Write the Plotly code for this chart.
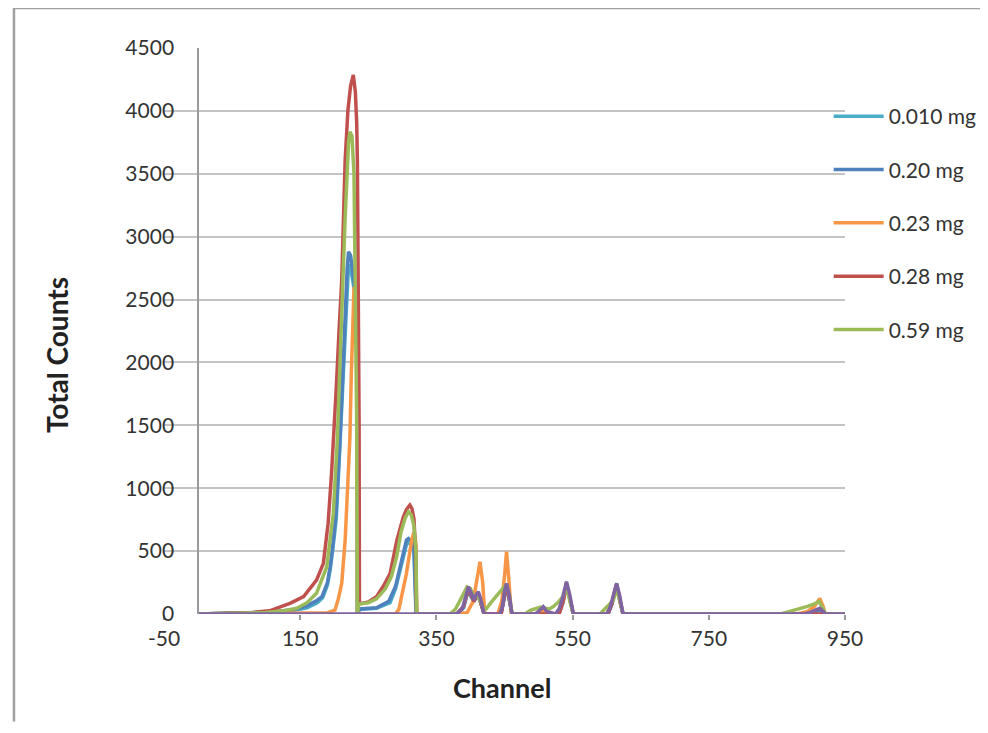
import plotly.graph_objects as go

# ---------------- data ----------------
series_names = ["0.010 mg", "0.20 mg", "0.23 mg", "0.28 mg", "0.59 mg", ""]
series_colors = ["#4BACC6", "#4F81BD", "#F79646", "#C0504D", "#9BBB59", "#8064A2"]

ch_010 = [0, 60, 110, 140, 160, 175, 183, 190, 194, 198, 203, 208, 212, 216, 219, 221, 224, 230, 233.5, 234,
          237, 262, 282, 290, 297, 302, 306, 309, 313, 317, 320, 380, 390, 396, 401, 405, 410, 415, 420,
          445, 450, 453, 457, 461, 530, 536, 541, 546, 551, 602, 608, 614, 619, 624, 900, 913, 921, 950]
cnt_010 = [0, 5, 12, 28, 50, 90, 130, 230, 350, 520, 760, 1300, 1800, 2300, 2650, 2780, 2750, 2550, 2450, 0,
           35, 45, 90, 200, 350, 450, 550, 570, 550, 510, 0, 0, 50, 180, 140, 100, 150, 90, 0,
           0, 140, 220, 110, 0, 0, 90, 230, 110, 0, 0, 80, 220, 110, 0, 0, 30, 0, 0]

ch_020 = [0, 60, 110, 140, 160, 175, 182, 190, 194, 198, 202.6, 208.4, 212, 216, 219, 221, 224, 230, 233.5, 234,
          237, 262, 280, 290, 296.5, 302, 306, 309, 313, 317, 320.5, 380, 390, 396, 401, 405, 410, 415, 420,
          445, 450, 453, 457, 461, 530, 536, 541, 546, 551, 602, 608, 614, 619, 624, 900, 913, 921, 950]
cnt_020 = [0, 5, 15, 35, 65, 110, 138, 250, 376, 550, 800, 1383, 1900, 2400, 2750, 2880, 2850, 2600, 2500, 0,
           40, 50, 100, 220, 376, 480, 588, 600, 580, 540, 0, 0, 60, 190, 150, 100, 160, 100, 0,
           0, 150, 230, 120, 0, 0, 100, 240, 120, 0, 0, 90, 230, 120, 0, 0, 35, 0, 0]

ch_023 = [0, 150, 190, 201, 206, 211, 216, 220.6, 223, 225, 227, 229, 231, 233, 234,
          290, 295, 299, 306, 313.7, 317, 320, 321, 380, 395, 404, 409, 414, 418, 421,
          440, 446, 450, 453, 456, 460, 500, 507, 512, 530, 537, 541, 546, 551,
          600, 607, 614, 619, 624, 880, 895, 905, 913, 918, 921, 950]
cnt_023 = [0, 3, 10, 30, 120, 244, 588, 1118, 1400, 1900, 2400, 2600, 2550, 2000, 0,
           0, 40, 138, 322, 588, 650, 560, 0, 0, 10, 100, 250, 416, 250, 0,
           0, 100, 300, 495, 300, 0, 0, 40, 0, 0, 120, 240, 120, 0,
           0, 80, 230, 120, 0, 0, 20, 60, 124, 60, 0, 0]

ch_028 = [0, 40, 80, 105, 135, 155, 174, 184, 191, 196, 199, 203, 207, 211, 216, 220, 224, 228,
          231, 233, 234, 235.5, 236.5, 237, 250, 262, 272, 282, 288, 292, 301.5, 306, 311, 314, 317, 319.5, 321,
          380, 390, 397, 401, 405, 411, 415, 420, 445, 450, 453, 457, 461, 530, 536, 541, 546, 551,
          602, 608, 614.7, 619, 624, 950]
cnt_028 = [0, 5, 12, 25, 85, 138, 270, 403, 720, 1118, 1383, 1800, 2250, 2655, 3609, 4000, 4200, 4285,
           4150, 3900, 3600, 2650, 1500, 80, 95, 138, 220, 322, 470, 588, 773, 830, 866, 840, 760, 500, 0,
           0, 60, 200, 150, 100, 165, 100, 0, 0, 150, 235, 120, 0, 0, 100, 245, 120, 0,
           0, 90, 235, 120, 0, 0]

ch_059 = [0, 50, 100, 125, 145, 160, 174, 189, 198.6, 204.5, 209, 213, 216, 219, 221, 223, 226, 229,
          231, 233, 234, 236, 250, 262, 275, 284, 291.7, 298, 304, 309, 313, 317, 320, 321,
          370, 378, 385, 390, 395, 400, 405, 410, 415, 420, 423, 430, 440, 447, 453, 457, 461,
          480, 488, 495, 503, 510, 516, 522, 530, 536, 541, 546, 551, 590, 597, 604, 610, 614, 619, 624,
          855, 865, 880, 895, 905, 912, 918, 921, 950]
cnt_059 = [0, 4, 12, 25, 45, 90, 165, 376, 800, 1383, 2000, 2700, 3150, 3550, 3750, 3834, 3800, 3500,
           2700, 1500, 0, 80, 90, 120, 200, 300, 456, 650, 760, 813, 790, 700, 500, 0,
           0, 40, 110, 170, 215, 200, 140, 150, 100, 30, 40, 90, 150, 200, 240, 150, 0,
           0, 30, 45, 55, 45, 40, 60, 100, 140, 230, 100, 0, 0, 40, 80, 110, 200, 120, 0,
           0, 15, 35, 60, 80, 100, 40, 0, 0]

ch_purple = [0, 380, 388, 393, 397, 401, 405, 408, 411.6, 415, 420, 443, 447, 450, 453, 457, 461,
             495, 500, 507, 512, 525, 530, 535, 541, 546, 551, 600, 604, 608, 614.7, 619, 624,
             890, 900, 908, 913, 918, 921, 950]
cnt_purple = [0, 0, 40, 150, 217, 170, 111, 150, 177, 120, 0, 0, 60, 180, 244, 150, 0,
              0, 20, 58, 20, 0, 40, 120, 257, 150, 0, 0, 40, 110, 244, 150, 0,
              0, 15, 35, 45, 20, 0, 0]

x_ticks = [-50, 150, 350, 550, 750, 950]
y_ticks = [0, 500, 1000, 1500, 2000, 2500, 3000, 3500, 4000, 4500]

channels = [ch_010, ch_020, ch_023, ch_028, ch_059, ch_purple]
counts = [cnt_010, cnt_020, cnt_023, cnt_028, cnt_059, cnt_purple]

# ---------------- figure ----------------
FONT = "Lato"
fig = go.Figure()
for i, (xs, ys) in enumerate(zip(channels, counts)):
    fig.add_trace(go.Scatter(
        x=xs, y=ys, mode="lines", name=series_names[i],
        line=dict(color=series_colors[i], width=3.5),
        showlegend=bool(series_names[i]),
        legendgroup="g%d" % i,
    ))

fig.update_layout(
    width=972, height=717,
    margin=dict(l=156, r=135, t=40, b=111, autoexpand=False),
    paper_bgcolor="white", plot_bgcolor="white",
    font=dict(family=FONT, size=21, color="#333333"),
    legend=dict(x=0.976, xanchor="left", y=0.915, yanchor="top",
                bgcolor="rgba(0,0,0,0)", tracegroupgap=23, itemwidth=50,
                font=dict(family=FONT, size=21, color="#333333")),
    xaxis=dict(range=[-50, 950], tickvals=x_ticks, ticktext=[str(v) for v in x_ticks],
               showgrid=False, zeroline=False, showline=False,
               ticks="outside", ticklen=5, tickcolor="#9a9a9a", tickwidth=1.5,
               ticklabelstandoff=1),
    yaxis=dict(range=[0, 4500], tickvals=y_ticks, ticktext=[str(v) for v in y_ticks],
               anchor="free", position=0.05,
               showgrid=True, gridcolor="#c4c4c4", gridwidth=2,
               zeroline=False, showline=True, linecolor="#9a9a9a", linewidth=1.5,
               ticks="", ticklabelstandoff=19),
    annotations=[
        dict(text="<b>Total Counts</b>", x=-0.157, y=0.4576, xref="paper", yref="paper",
             xanchor="center", yanchor="middle",
             textangle=-90, showarrow=False, font=dict(family=FONT, size=28, color="#222222")),
        dict(text="<b>Channel</b>", x=0.496, y=-0.1307, xref="paper", yref="paper",
             xanchor="center", yanchor="middle",
             showarrow=False, font=dict(family=FONT, size=27, color="#222222")),
    ],
    shapes=[
        dict(type="line", xref="paper", yref="paper", x0=-0.2203, x1=-0.2203, y0=1.0707, y1=-0.19,
             line=dict(color="#a0a0a0", width=2.5)),
        dict(type="line", xref="paper", yref="paper", x0=-0.2203, x1=1.2, y0=1.0707, y1=1.0707,
             line=dict(color="#a0a0a0", width=2.5)),
    ],
)

fig.write_html("out.html")
